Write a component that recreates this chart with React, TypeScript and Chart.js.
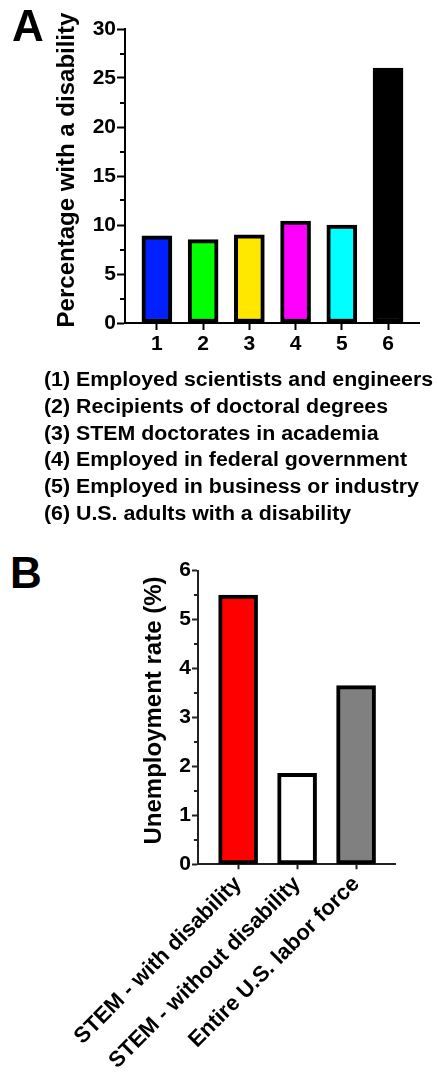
import React, { useEffect, useRef } from 'react';
import { Chart, registerables } from 'chart.js';

Chart.register(...registerables);

const FONT = '"Liberation Sans", Arial, Helvetica, sans-serif';

// ---- Panel A data ----
const categoriesA = ['1', '2', '3', '4', '5', '6'];
const valuesA = [8.9, 8.5, 9.0, 10.4, 10.0, 26.0];
const colorsA = ['#0020ff', '#00ff00', '#ffe800', '#ff00ff', '#00ffff', '#000000'];
const legendA = [
  '(1) Employed scientists and engineers',
  '(2) Recipients of doctoral degrees',
  '(3) STEM doctorates in academia',
  '(4) Employed in federal government',
  '(5) Employed in business or industry',
  '(6) U.S. adults with a disability',
];
const yTitleA = 'Percentage with a disability';
const yMaxA = 30;
const yStepA = 5;

// ---- Panel B data ----
const categoriesB = ['STEM - with disability', 'STEM - without disability', 'Entire U.S. labor force'];
const valuesB = [5.5, 1.86, 3.65];
const colorsB = ['#ff0000', '#ffffff', '#808080'];
const yTitleB = 'Unemployment rate (%)';
const yMaxB = 6;
const yStepB = 1;

const minorTicks = {
  id: 'minorTicks',
  afterDraw(chart: any, _args: any, opts: any) {
    const s = chart.scales.y;
    if (!s || !opts || !opts.length) return;
    const ctx = chart.ctx;
    ctx.save();
    ctx.strokeStyle = opts.color;
    ctx.lineWidth = opts.width;
    const t = s.ticks;
    for (let i = 0; i < t.length - 1; i++) {
      const mid = (t[i].value + t[i + 1].value) / 2;
      const y = Math.round(s.getPixelForValue(mid));
      ctx.beginPath();
      ctx.moveTo(s.right - opts.length, y);
      ctx.lineTo(s.right, y);
      ctx.stroke();
    }
    ctx.restore();
  },
};

const yAxisTitle = {
  id: 'yAxisTitle',
  afterDraw(chart: any, _args: any, o: any) {
    if (!o || !o.text) return;
    const s = chart.scales.y;
    const ctx = chart.ctx;
    ctx.save();
    ctx.translate(o.x, (s.top + s.bottom) / 2 + o.dy);
    ctx.rotate(-Math.PI / 2);
    ctx.font = `bold ${o.size}px ${FONT}`;
    ctx.fillStyle = '#000';
    ctx.textAlign = 'center';
    ctx.textBaseline = 'middle';
    ctx.fillText(o.text, 0, 0);
    ctx.restore();
  },
};

// numbered key written under panel A
const keyText = {
  id: 'keyText',
  afterDraw(chart: any, _args: any, o: any) {
    if (!o || !o.lines || !o.lines.length) return;
    const ctx = chart.ctx;
    ctx.save();
    ctx.font = `bold ${o.size}px ${FONT}`;
    ctx.fillStyle = '#000';
    ctx.textAlign = 'left';
    ctx.textBaseline = 'alphabetic';
    let widest = 0;
    let inkLeft = 0;
    o.lines.forEach((l: string) => {
      const m = ctx.measureText(l);
      const w = m.actualBoundingBoxRight + m.actualBoundingBoxLeft;
      if (w > widest) {
        widest = w;
        inkLeft = m.actualBoundingBoxLeft;
      }
    });
    const sx = widest > 0 ? o.width / widest : 1;
    o.lines.forEach((l: string, i: number) => {
      ctx.save();
      ctx.translate(o.x, o.y + i * o.gap);
      ctx.scale(sx, 1);
      ctx.fillText(l, inkLeft, 0);
      ctx.restore();
    });
    ctx.restore();
  },
};

type PanelProps = {
  width: number;
  height: number;
  top: number;
  categories: string[];
  values: number[];
  colors: string[];
  yTitle: string;
  yMax: number;
  yStep: number;
  xMin: number;
  xMax: number;
  padding: { left: number; right: number; top: number; bottom: number };
  yAxisWidth: number;
  xAxisHeight: number;
  barThickness: number;
  axisColor: string;
  majorTick: number;
  minorTick: number;
  xTick: number;
  titleX: number;
  titleDy: number;
  xFontSize: number;
  rotation: number;
  xLabelPad: number;
  keyLines?: any;
};

function BarPanel(p: PanelProps) {
  const ref = useRef<HTMLCanvasElement | null>(null);
  useEffect(() => {
    if (!ref.current) return;
    const chart = new Chart(ref.current, {
      type: 'bar',
      data: {
        datasets: [
          {
            data: p.values.map((v, i) => ({ x: i + 1, y: v })),
            backgroundColor: p.colors,
            borderColor: '#000',
            borderWidth: 4,
            borderSkipped: false,
            barThickness: p.barThickness,
          } as any,
        ],
      },
      options: {
        responsive: false,
        animation: false,
        devicePixelRatio: 1,
        layout: { padding: p.padding },
        plugins: {
          legend: { display: false },
          tooltip: { enabled: false },
          minorTicks: { length: p.minorTick, color: p.axisColor, width: 2 },
          yAxisTitle: { text: p.yTitle, x: p.titleX, dy: p.titleDy, size: 24 },
          keyText: p.keyLines || {},
        } as any,
        scales: {
          x: {
            type: 'linear',
            min: p.xMin,
            max: p.xMax,
            offset: false,
            z: 1,
            afterBuildTicks: (s: any) => {
              s.ticks = p.categories.map((_, i) => ({ value: i + 1 }));
            },
            afterFit: (s: any) => {
              s.height = p.xAxisHeight;
            },
            border: { display: true, color: p.axisColor, width: 2 },
            grid: {
              display: true,
              offset: false,
              drawOnChartArea: false,
              drawTicks: true,
              tickLength: p.xTick,
              tickColor: p.axisColor,
              tickWidth: 2,
            },
            ticks: {
              autoSkip: false,
              minRotation: p.rotation,
              maxRotation: p.rotation,
              padding: p.xLabelPad,
              color: '#000',
              font: { family: FONT, size: p.xFontSize, weight: 'bold' },
              callback: (v: any) => p.categories[Math.round(Number(v)) - 1] ?? '',
            },
          } as any,
          y: {
            type: 'linear',
            min: 0,
            max: p.yMax,
            z: 1,
            afterFit: (s: any) => {
              s.width = p.yAxisWidth;
            },
            border: { display: true, color: p.axisColor, width: 2 },
            grid: {
              display: true,
              drawOnChartArea: false,
              drawTicks: true,
              tickLength: p.majorTick,
              tickColor: p.axisColor,
              tickWidth: 2,
            },
            ticks: {
              stepSize: p.yStep,
              padding: 1,
              color: '#000',
              font: { family: FONT, size: 21, weight: 'bold' },
            },
            title: { display: false },
          } as any,
        },
      },
      plugins: [minorTicks as any, yAxisTitle as any, keyText as any],
    });
    return () => chart.destroy();
  }, []);
  return (
    <canvas
      ref={ref}
      width={p.width}
      height={p.height}
      style={{ position: 'absolute', left: 0, top: p.top, width: p.width, height: p.height }}
    />
  );
}

export default function App() {
  return (
    <div
      style={{
        position: 'absolute',
        left: 0,
        top: 0,
        width: 438,
        height: 1074,
        background: '#fff',
        fontFamily: FONT,
        color: '#000',
        overflow: 'hidden',
      }}
    >
      <BarPanel
        width={438}
        height={540}
        top={0}
        categories={categoriesA}
        values={valuesA}
        colors={colorsA}
        yTitle={yTitleA}
        yMax={yMaxA}
        yStep={yStepA}
        xMin={0.31}
        xMax={6.67}
        padding={{ left: 0, right: 19, top: 29, bottom: 175 }}
        yAxisWidth={125}
        xAxisHeight={42}
        barThickness={30}
        axisColor="#000"
        majorTick={8}
        minorTick={5}
        xTick={7}
        titleX={67}
        titleDy={-6}
        xFontSize={21}
        rotation={0}
        xLabelPad={2}
        keyLines={{ lines: legendA, x: 45, y: 386, gap: 26.8, size: 20, width: 388 }}
      />
      <div style={{ position: 'absolute', left: 12, top: 4, fontSize: 44, fontWeight: 'bold', lineHeight: '44px' }}>A</div>
      <div style={{ position: 'absolute', left: 10, top: 551, fontSize: 44, fontWeight: 'bold', lineHeight: '44px' }}>B</div>
      <BarPanel
        width={438}
        height={534}
        top={540}
        categories={categoriesB}
        values={valuesB}
        colors={colorsB}
        yTitle={yTitleB}
        yMax={yMaxB}
        yStep={yStepB}
        xMin={0.32}
        xMax={3.66}
        padding={{ left: 0, right: 43, top: 30.7, bottom: 0 }}
        yAxisWidth={198}
        xAxisHeight={209.7}
        barThickness={39}
        axisColor="#222"
        majorTick={6}
        minorTick={4}
        xTick={5}
        titleX={154}
        titleDy={-7}
        xFontSize={22}
        rotation={45}
        xLabelPad={2}
      />
    </div>
  );
}
